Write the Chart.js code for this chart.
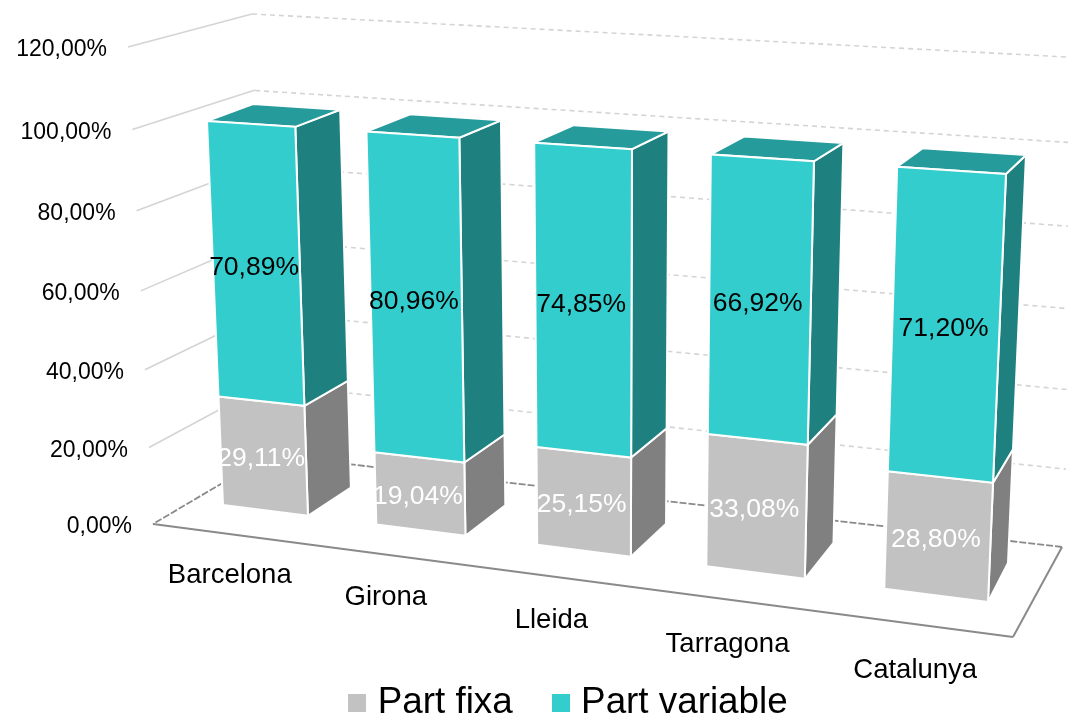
<!DOCTYPE html>
<html>
<head>
<meta charset="utf-8">
<title>Part fixa / Part variable</title>
<script src="https://cdn.jsdelivr.net/npm/chart.js@4"></script>
<style>
  html, body { margin: 0; padding: 0; background: #fff; overflow: hidden; }
  canvas { display: block; }
</style>
</head>
<body>
<canvas id="chart" width="1068" height="718"></canvas>
<script>
const categories = ['Barcelona', 'Girona', 'Lleida', 'Tarragona', 'Catalunya'];
const partFixa = [29.11, 19.04, 25.15, 33.08, 28.80];
const partVariable = [70.89, 80.96, 74.85, 66.92, 71.20];
const tickLabels = ['0,00%', '20,00%', '40,00%', '60,00%', '80,00%', '100,00%', '120,00%'];

const FONT = '"Liberation Sans", Arial, sans-serif';
const TEAL = { front: '#33cdcd', side: '#1f8080', top: '#269b9b' };
const GREY = { front: '#c2c2c2', side: '#808080' };

// unit square -> quad (perspective), corners: s0t0, s1t0, s1t1, s0t1
function quad(p0, p1, p2, p3) {
  const dx1 = p1[0] - p2[0], dx2 = p3[0] - p2[0], sx = p0[0] - p1[0] + p2[0] - p3[0];
  const dy1 = p1[1] - p2[1], dy2 = p3[1] - p2[1], sy = p0[1] - p1[1] + p2[1] - p3[1];
  const den = dx1 * dy2 - dx2 * dy1;
  const g = (sx * dy2 - dx2 * sy) / den, h = (dx1 * sy - sx * dy1) / den;
  const a = p1[0] - p0[0] + g * p1[0], b = p3[0] - p0[0] + h * p3[0];
  const d = p1[1] - p0[1] + g * p1[1], e = p3[1] - p0[1] + h * p3[1];
  return (s, t) => {
    const w = g * s + h * t + 1;
    return [(a * s + b * t + p0[0]) / w, (d * s + e * t + p0[1]) / w];
  };
}

// the 3D look: planes of the box and of the bars
const barFront = quad([223, 505], [988, 602], [1006, 174], [207, 121]);
const barBack = quad([267, 478], [1008, 563], [1026, 155], [253, 104]);
const backWall = quad([270, 455], [1062, 547], [1086, 58], [252, 14]);
const leftWall = quad([153, 524], [270, 455], [252, 14], [128, 47]);
const floor = quad([153, 524], [1013, 637], [1062, 547], [270, 455]);

function poly(ctx, pts, fill, stroke) {
  ctx.beginPath();
  pts.forEach((p, i) => i ? ctx.lineTo(p[0], p[1]) : ctx.moveTo(p[0], p[1]));
  ctx.closePath();
  if (fill) { ctx.fillStyle = fill; ctx.fill(); }
  if (stroke) { ctx.strokeStyle = stroke; ctx.lineWidth = 2; ctx.stroke(); }
}

function line(ctx, a, b, color, width, dash) {
  ctx.beginPath();
  ctx.setLineDash(dash || []);
  ctx.moveTo(a[0], a[1]);
  ctx.lineTo(b[0], b[1]);
  ctx.strokeStyle = color;
  ctx.lineWidth = width;
  ctx.stroke();
  ctx.setLineDash([]);
}

const box3d = {
  id: 'box3d',
  beforeDatasetsDraw(chart) {
    const { ctx, scales: { x, y } } = chart;
    const bars0 = chart.getDatasetMeta(0).data;
    const bars1 = chart.getDatasetMeta(1).data;
    const n = bars0.length;
    const xa = bars0[0].x - bars0[0].width / 2;
    const xb = bars0[n - 1].x + bars0[n - 1].width / 2;
    const y0 = y.getPixelForValue(0);
    const y100 = y.getPixelForValue(100);
    const y120 = y.getPixelForValue(120);
    const su = px => (px - xa) / (xb - xa);
    const tv = px => (y0 - px) / (y0 - y100);
    const tw = px => (y0 - px) / (y0 - y120);

    ctx.save();

    // walls, from the y ticks
    y.ticks.forEach(tick => {
      const t = tw(y.getPixelForValue(tick.value));
      if (tick.value === 0) return;
      line(ctx, leftWall(0, t), leftWall(1, t), '#d4d4d4', 1.6);
      line(ctx, backWall(0, t), backWall(1, t), '#d4d4d4', 1.6, [5, 4]);
    });

    // floor
    line(ctx, floor(0, 0), floor(1, 0), '#8a8a8a', 2);
    line(ctx, floor(1, 0), floor(1, 1), '#8a8a8a', 2);
    line(ctx, floor(1, 1), floor(0, 1), '#8a8a8a', 1.8, [7, 2]);
    line(ctx, floor(0, 1), floor(0, 0), '#8a8a8a', 1.8, [7, 2]);

    // bars
    const segment = (el, colors, showTop) => {
      const l = su(el.x - el.width / 2), r = su(el.x + el.width / 2);
      const tb = tv(el.base), tt = tv(el.y);
      poly(ctx, [barFront(r, tb), barBack(r, tb), barBack(r, tt), barFront(r, tt)], colors.side, '#fff');
      if (showTop) poly(ctx, [barFront(l, tt), barFront(r, tt), barBack(r, tt), barBack(l, tt)], colors.top, '#fff');
      poly(ctx, [barFront(l, tb), barFront(r, tb), barFront(r, tt), barFront(l, tt)], colors.front, '#fff');
    };
    bars0.forEach((el, i) => {
      segment(el, GREY, false);
      segment(bars1[i], TEAL, true);
    });

    // value labels
    ctx.textAlign = 'center';
    ctx.textBaseline = 'middle';
    ctx.font = '26.5px ' + FONT;
    const valueLabel = (el, value, color) => {
      const p = barFront(su(el.x), tv((el.y + el.base) / 2));
      ctx.fillStyle = color;
      ctx.fillText(value.toFixed(2).replace('.', ',') + '%', p[0] - 2, p[1] + 3);
    };
    bars0.forEach((el, i) => {
      valueLabel(el, partFixa[i], '#fff');
      valueLabel(bars1[i], partVariable[i], '#000');
    });

    // y axis labels
    ctx.textAlign = 'right';
    ctx.font = '23px ' + FONT;
    ctx.fillStyle = '#000';
    y.ticks.forEach(tick => {
      const p = leftWall(0, tw(y.getPixelForValue(tick.value)));
      ctx.fillText(tick.label, p[0] - 21, p[1] + 3);
    });

    // category labels, in front of the floor
    ctx.textAlign = 'center';
    ctx.font = '27.5px ' + FONT;
    categories.forEach((name, i) => {
      const u = (x.getPixelForTick(i) - x.left) / x.width;
      const p = floor(u, -0.45);
      ctx.fillText(name, p[0] * 0.96 + 66, p[1] * 0.95 + 34);
    });

    ctx.restore();
    return false;
  }
};

function swatch(color) {
  const c = document.createElement('canvas');
  c.width = c.height = 18;
  const g = c.getContext('2d');
  g.fillStyle = color;
  g.fillRect(0, 0, 18, 18);
  return c;
}

new Chart(document.getElementById('chart'), {
  type: 'bar',
  data: {
    labels: categories,
    datasets: [
      { label: 'Part fixa', data: partFixa, backgroundColor: GREY.front },
      { label: 'Part variable', data: partVariable, backgroundColor: TEAL.front }
    ]
  },
  options: {
    responsive: false,
    animation: false,
    events: [],
    layout: { padding: { left: 75, bottom: -13 } },
    categoryPercentage: 1,
    barPercentage: 0.56,
    scales: {
      x: { stacked: true, display: false },
      y: {
        stacked: true, display: false, min: 0, max: 120,
        ticks: { stepSize: 20, callback: (v, i) => tickLabels[i] }
      }
    },
    plugins: {
      tooltip: { enabled: false },
      legend: {
        position: 'bottom',
        labels: {
          usePointStyle: true,
          boxWidth: 4,
          padding: 46,
          color: '#000',
          font: { family: FONT, size: 36.8 },
          generateLabels: chart => chart.data.datasets.map((ds, i) => ({
            text: ds.label,
            datasetIndex: i,
            fontColor: '#000',
            pointStyle: swatch(ds.backgroundColor)
          }))
        }
      }
    }
  },
  plugins: [box3d]
});
</script>
</body>
</html>
